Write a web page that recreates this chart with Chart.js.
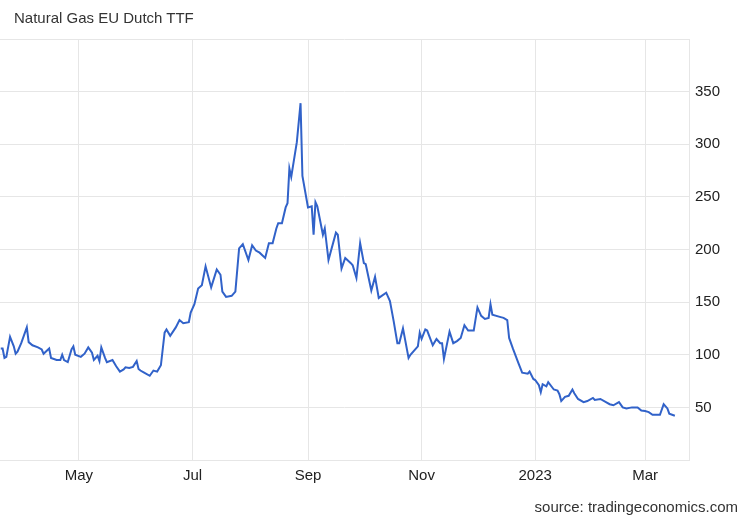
<!DOCTYPE html>
<html>
<head>
<meta charset="utf-8">
<script src="https://cdn.jsdelivr.net/npm/chart.js@4/dist/chart.umd.min.js"></script>
<style>
  body { margin: 0; background: #fff; }
  #wrap { position: relative; width: 750px; height: 520px; }
  #title { position: absolute; left: 14px; top: 9px; font: 15px "Liberation Sans", Arial, sans-serif; color: #333; }
  #source { position: absolute; right: 12px; top: 498px; font: 15px "Liberation Sans", Arial, sans-serif; color: #333; }
  canvas { position: absolute; left: 0; top: 0; }
</style>
</head>
<body>
<div id="wrap">
  <canvas id="gasChart" width="750" height="520"></canvas>
  <div id="title">Natural Gas EU Dutch TTF</div>
  <div id="source">source: tradingeconomics.com</div>
</div>
<script>
// days since 1 May 2022
const days = [-42,-41,-40,-39,-37,-35,-34,-33,-31,-28,
  -27,-25,-22,-20,-19,-16,-15,-12,-10,-9,
  -8,-6,-4,-3,-2,1,3,5,7,8,
  10,11,12,14,15,18,20,22,24,25,
  27,29,31,32,33,35,38,40,42,44,
  46,47,49,52,54,56,59,60,62,64,
  66,68,71,74,76,77,79,82,84,86,
  88,91,93,95,97,100,102,104,106,107,
  109,111,112,113,114,117,119,120,123,125,
  126,127,128,131,132,134,138,139,141,143,
  146,147,149,151,153,154,157,159,161,165,
  166,167,169,171,172,174,177,178,182,183,
  184,186,187,190,192,194,195,196,199,201,
  203,205,207,209,212,214,216,218,220,221,
  222,226,228,230,231,233,236,238,241,242,
  244,245,247,248,249,251,252,255,257,258,
  259,261,263,265,266,268,271,273,276,277,
  280,283,285,287,290,292,294,297,300,302,
  304,306,308,310,312,314,316,317,320];

// EUR/MWh
const prices = [106,106,97,98,117,108,101,103,111,126,
  112,109,107,105,101,106,97,95,95,100,
  95,93,105,108,100,98,101,107,102,95,
  99,94,107,97,93,95,89,84,86,88,
  87.5,88.5,94,86.5,85,83,80,85,84,90,
  121,124,118,126,133,130,131,140,148,163,
  166,184,164,181,176,160,155,156,160,201,
  205,190,204,199,197,192,206,206,220,225,
  225,240,244,277,269,302,339,270,240,241,
  214,245,241,214,220,190,216,214,182,192,
  187,185,173,206,187,186,161,174,154,159,
  155,151,132,111,111,125,97,100,108,121,
  115,124,123,109,115,111,111,96,122,111,
  113,116,128,123,123,145,137,134,135,148,
  138,136,135,133,116,106,92,83,82,84,
  77,76,71,64.5,72,70,74,67,66,62.5,
  56,60,61,67,63.5,58,55,56,59,57,
  58,55,53,52,55,50,49,50,50,47,
  46.5,45.5,43,43,43,53,49,44,42];

const tickDays = [0, 61, 123, 184, 245, 304];
const tickLabels = ['May', 'Jul', 'Sep', 'Nov', '2023', 'Mar'];

const gridColor = '#e6e6e6';
const tickFont = { family: '"Liberation Sans", Arial, sans-serif', size: 15 };

new Chart(document.getElementById('gasChart'), {
  type: 'line',
  data: {
    datasets: [{
      data: days.map((d, i) => ({ x: d, y: prices[i] })),
      borderColor: '#3162c9',
      borderWidth: 2,
      pointRadius: 0,
      tension: 0,
      fill: false
    }]
  },
  options: {
    responsive: false,
    animation: false,
    layout: { padding: { top: 39, bottom: 36, left: 0, right: 0 } },
    plugins: { legend: { display: false }, tooltip: { enabled: false } },
    scales: {
      x: {
        type: 'linear',
        min: -42.4,
        max: 327.6,
        afterBuildTicks: s => { s.ticks = tickDays.map(v => ({ value: v })); },
        afterFit: s => { s.height = 24; },
        ticks: {
          autoSkip: false,
          maxRotation: 0,
          padding: 7,
          color: '#222',
          font: tickFont,
          callback: v => tickLabels[tickDays.indexOf(v)]
        },
        grid: { color: gridColor, drawTicks: false },
        border: { display: true, color: gridColor }
      },
      y: {
        position: 'right',
        min: 0,
        max: 400,
        afterFit: s => { s.width = 61; },
        ticks: {
          stepSize: 50,
          padding: 6,
          color: '#222',
          font: tickFont,
          callback: v => (v === 0 || v === 400) ? '' : v
        },
        grid: { color: gridColor, drawTicks: false },
        border: { display: true, color: gridColor }
      }
    }
  }
});
</script>
</body>
</html>
